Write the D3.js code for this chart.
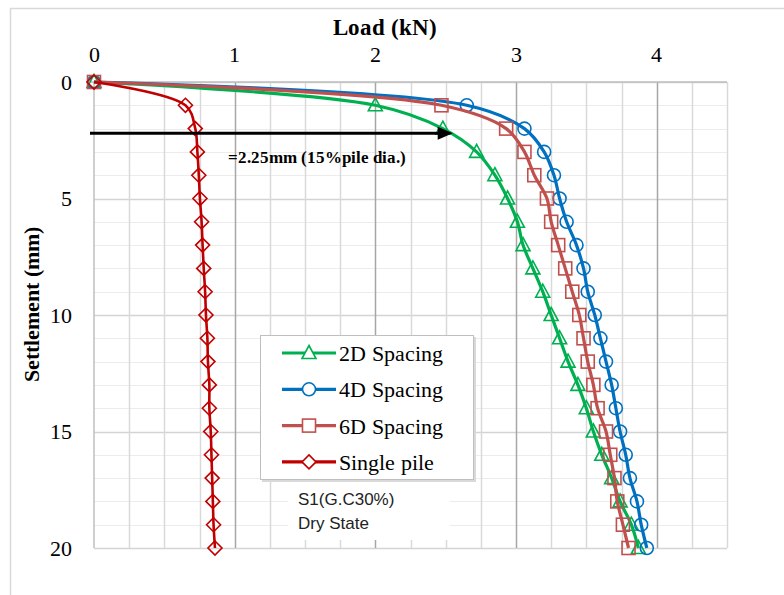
<!DOCTYPE html>
<html>
<head>
<meta charset="utf-8">
<script src="https://cdn.jsdelivr.net/npm/d3@7"></script>
<style>
  @font-face {
    font-family: "ChartSerif";
    src: local("Liberation Serif"), local("LiberationSerif"), local("LiberationSerif-Regular"), local("Tinos"), local("DejaVu Serif");
    font-weight: 400;
  }
  @font-face {
    font-family: "ChartSerif";
    src: local("Liberation Serif Bold"), local("LiberationSerif-Bold"), local("Tinos Bold");
    font-weight: 700;
  }
</style>
</head>
<body style="margin:0">
<svg id="chart" width="784" height="595"></svg>
<script>
// settlement readings (mm) and load (kN) for each case
var settlement = [0, 1, 2, 3, 4, 5, 6, 7, 8, 9, 10, 11, 12, 13, 14, 15, 16, 17, 18, 19, 20];
var load2D = [0, 2.00, 2.48, 2.72, 2.85, 2.94, 3.01, 3.05, 3.12, 3.19, 3.25, 3.31, 3.37, 3.44, 3.50, 3.55, 3.61, 3.68, 3.74, 3.82, 3.87];
var load4D = [0, 2.65, 3.06, 3.20, 3.27, 3.31, 3.36, 3.43, 3.48, 3.51, 3.56, 3.60, 3.64, 3.68, 3.71, 3.74, 3.78, 3.81, 3.86, 3.89, 3.93];
var load6D = [0, 2.47, 2.93, 3.06, 3.13, 3.22, 3.25, 3.30, 3.35, 3.40, 3.45, 3.48, 3.51, 3.55, 3.58, 3.64, 3.67, 3.70, 3.72, 3.76, 3.80];
var loadSingle = [0, 0.65, 0.72, 0.735, 0.745, 0.753, 0.765, 0.772, 0.78, 0.79, 0.796, 0.806, 0.81, 0.82, 0.82, 0.83, 0.835, 0.84, 0.845, 0.85, 0.86];

var seriesNames = ["2D Spacing", "4D Spacing", "6D Spacing", "Single pile"];
var xTicks = [0, 1, 2, 3, 4];
var yTicks = [0, 5, 10, 15, 20];
var limitSettlement = 2.2;   // arrow level
var arrowLoad = 2.55;
var noteText = "=2.25mm (15%pile dia.)";
var boxText = ["S1(G.C30%)", "Dry State"];

var colors = ["#00B050", "#0070C0", "#C0504D", "#C00000"];
var shapes = ["triangle", "circle", "square", "diamond"];
var allLoads = [load2D, load4D, load6D, loadSingle];

var svg = d3.select("#chart");
var serif = "ChartSerif, 'Liberation Serif', serif";

var margin = {left: 94, top: 82};
var w = 633, h = 466;

var x = d3.scaleLinear().domain([0, 4.5]).range([margin.left, margin.left + w]);
var y = d3.scaleLinear().domain([0, 20]).range([margin.top, margin.top + h]);

// frame and gridlines
svg.append("rect")
    .attr("x", 10.5).attr("y", 8.5)
    .attr("width", 800).attr("height", 600)
    .attr("fill", "#fff")
    .attr("stroke", "#d9d9d9").attr("stroke-width", 1.5);

d3.range(0, 21).forEach(function(v) {
    svg.append("line")
        .attr("x1", x(0)).attr("x2", x(4.5))
        .attr("y1", Math.round(y(v)) + 0.5).attr("y2", Math.round(y(v)) + 0.5)
        .attr("stroke", v % 5 == 0 ? "#d4d4d4" : "#ececec")
        .attr("stroke-width", v % 5 == 0 ? 1.5 : 1.2);
});
d3.range(1, 19).forEach(function(i) {
    var v = i * 0.25;
    svg.append("line")
        .attr("x1", Math.round(x(v)) + 0.5).attr("x2", Math.round(x(v)) + 0.5)
        .attr("y1", y(0)).attr("y2", y(20))
        .attr("stroke", i % 4 == 0 ? "#a6a6a6" : "#d9d9d9")
        .attr("stroke-width", 1.5);
});

svg.append("line")
    .attr("x1", x(0) - 4).attr("x2", x(4.5))
    .attr("y1", y(0)).attr("y2", y(0))
    .attr("stroke", "#bfbfbf").attr("stroke-width", 1.5);
svg.append("line")
    .attr("x1", x(0)).attr("x2", x(0))
    .attr("y1", y(0)).attr("y2", y(20))
    .attr("stroke", "#bfbfbf").attr("stroke-width", 1.5);

// tick labels and titles
svg.selectAll(".xt").data(xTicks).enter().append("text")
    .attr("class", "xt")
    .attr("x", function(d) { return x(d); })
    .attr("y", 62)
    .attr("text-anchor", "middle")
    .style("font-family", serif).style("font-size", "22px")
    .text(function(d) { return d; });

svg.selectAll(".yt").data(yTicks).enter().append("text")
    .attr("class", "yt")
    .attr("x", 72)
    .attr("y", function(d) { return y(d) + 7.5; })
    .attr("text-anchor", "end")
    .style("font-family", serif).style("font-size", "22px")
    .text(function(d) { return d; });

svg.append("text")
    .attr("x", 385).attr("y", 35)
    .attr("text-anchor", "middle")
    .style("font-family", serif).style("font-size", "23px").style("font-weight", "bold")
    .text("Load (kN)");

svg.append("text")
    .attr("transform", "translate(39,304) rotate(-90)")
    .attr("text-anchor", "middle")
    .style("font-family", serif).style("font-size", "22px").style("font-weight", "bold")
    .text("Settlement (mm)");

// white note box
svg.append("rect")
    .attr("x", 288).attr("y", 482)
    .attr("width", 162).attr("height", 58)
    .attr("fill", "#fff");
svg.selectAll(".boxText").data(boxText).enter().append("text")
    .attr("class", "boxText")
    .attr("x", 298)
    .attr("y", function(d, i) { return 505 + i * 24; })
    .style("font-family", "'Liberation Sans'").style("font-size", "17px")
    .attr("fill", "#222")
    .text(function(d) { return d; });

// markers
function marker(sel, shape, color) {
    if (shape == "circle") {
        sel.append("circle").attr("r", 6.5);
    } else if (shape == "triangle") {
        sel.append("path").attr("d", "M0,-7.5L7,5.5L-7,5.5Z");
    } else if (shape == "square") {
        sel.append("rect").attr("x", -6.5).attr("y", -6.5).attr("width", 13).attr("height", 13);
    } else {
        sel.append("path").attr("d", "M0,-7L7,0L0,7L-7,0Z");
    }
    sel.selectAll("*")
        .attr("fill", "none")
        .attr("stroke", color)
        .attr("stroke-width", 1.6);
}

var line = d3.line()
    .x(function(d) { return x(d.load); })
    .y(function(d) { return y(d.s); })
    .curve(d3.curveCatmullRom.alpha(0.5));

allLoads.forEach(function(loads, k) {
    var pts = settlement.map(function(s, i) { return {s: s, load: loads[i]}; });
    var g = svg.append("g");
    g.append("path")
        .datum(pts)
        .attr("d", line)
        .attr("fill", "none")
        .attr("stroke", colors[k])
        .attr("stroke-width", k == 3 ? 2.6 : 3.2);
    g.selectAll(".m").data(pts).enter().append("g")
        .attr("class", "m")
        .attr("transform", function(d) { return "translate(" + x(d.load) + "," + y(d.s) + ")"; })
        .each(function() { marker(d3.select(this), shapes[k], colors[k]); });
});

// 2.25 mm arrow (shaft plus head) and note
var ax = x(arrowLoad), ay = y(limitSettlement);
svg.append("line")
    .attr("x1", x(0) - 4).attr("x2", ax - 12)
    .attr("y1", ay).attr("y2", ay)
    .attr("stroke", "#000").attr("stroke-width", 3);
svg.append("path")
    .attr("d", "M" + ax + "," + ay + "L" + (ax - 15) + "," + (ay - 6.5) + "L" + (ax - 15) + "," + (ay + 6.5) + "Z")
    .attr("fill", "#000");

svg.append("text")
    .attr("x", 228).attr("y", 163)
    .style("font-family", serif).style("font-size", "16.5px").style("font-weight", "bold")
    .text(noteText);

// legend
var legend = svg.append("g");
legend.append("rect")
    .attr("x", 262).attr("y", 337)
    .attr("width", 214).attr("height", 145)
    .attr("fill", "#d9d9d9");
legend.append("rect")
    .attr("x", 260.5).attr("y", 335.5)
    .attr("width", 213).attr("height", 144)
    .attr("fill", "#fff")
    .attr("stroke", "#bfbfbf").attr("stroke-width", 1);

seriesNames.forEach(function(name, k) {
    var ly = 353 + k * 36.3;
    legend.append("line")
        .attr("x1", 282).attr("x2", 336)
        .attr("y1", ly).attr("y2", ly)
        .attr("stroke", colors[k]).attr("stroke-width", 3.2);
    var mg = legend.append("g").attr("transform", "translate(309," + ly + ")");
    marker(mg, shapes[k], colors[k]);
    mg.selectAll("*").attr("fill", "#fff");
    legend.append("text")
        .attr("x", 339).attr("y", ly + 8)
        .style("font-family", serif).style("font-size", "22px")
        .text(name);
});
</script>
</body>
</html>
